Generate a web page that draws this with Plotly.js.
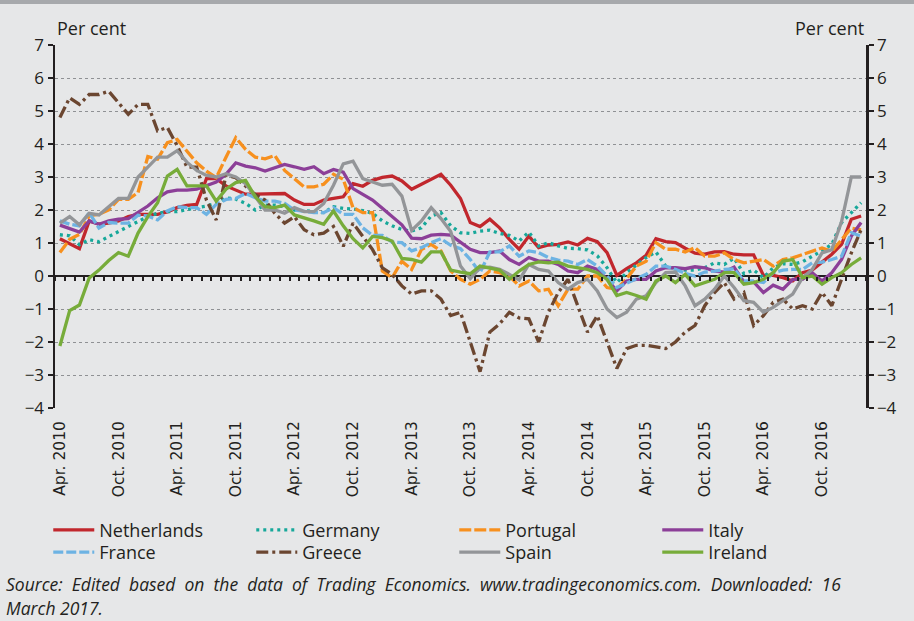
<!DOCTYPE html>
<html>
<head>
<meta charset="utf-8">
<script src="https://cdn.plot.ly/plotly-3.0.1.min.js"></script>
<style>
html,body{margin:0;padding:0;background:#e6e7e8;}
#chart{width:914px;height:621px;}
</style>
</head>
<body>
<div id="chart"></div>
<script>
// Monthly CPI inflation, Apr. 2010 – Feb. 2017 (per cent)
const tickLabels = ["Apr. 2010","Oct. 2010","Apr. 2011","Oct. 2011","Apr. 2012","Oct. 2012","Apr. 2013",
  "Oct. 2013","Apr. 2014","Oct. 2014","Apr. 2015","Oct. 2015","Apr. 2016","Oct. 2016"];

const netherlands = [1.13,0.98,0.83,1.67,1.57,1.6,1.67,1.8,1.87,1.87,1.87,1.94,2.07,2.14,2.17,2.95,2.95,
  2.73,2.6,2.48,2.48,2.48,2.48,2.5,2.3,2.17,2.17,2.3,2.35,2.4,2.8,2.72,2.9,
  2.99,3.03,2.88,2.63,2.78,2.93,3.08,2.75,2.35,1.62,1.5,1.72,1.46,1.11,0.81,1.21,0.86,
  0.94,0.96,1.03,0.94,1.14,1.04,0.71,0.02,0.22,0.4,0.63,1.13,1.04,1.01,0.84,0.69,
  0.66,0.73,0.74,0.66,0.64,0.64,0.02,0.02,-0.05,-0.15,0.1,0.18,0.42,0.66,0.96,1.72,1.82];

const germany = [1.25,1.22,0.95,1.1,1.04,1.2,1.35,1.5,1.65,1.8,1.9,1.95,1.95,2.02,2.07,2.12,2.2,
  2.37,2.33,2.2,2.0,2.15,2.15,2.1,2.0,1.98,1.95,1.92,2.1,2.05,2.03,1.98,1.9,
  1.67,1.52,1.41,1.36,1.46,1.82,1.92,1.52,1.31,1.29,1.36,1.39,1.29,1.23,1.06,1.33,0.91,
  1.01,0.91,0.84,0.83,0.79,0.61,0.25,-0.2,0.1,0.32,0.56,0.73,0.3,0.22,0.18,0.18,
  0.25,0.4,0.35,0.54,0.07,0.18,-0.05,0.25,0.37,0.35,0.43,0.6,0.76,0.96,1.62,1.92,2.22];

const portugal = [0.71,1.11,1.26,1.82,1.87,2.0,2.32,2.32,2.53,3.62,3.54,4.04,4.14,3.79,3.43,3.18,2.98,
  3.6,4.19,3.84,3.6,3.55,3.65,3.2,2.95,2.7,2.7,2.78,3.08,2.93,2.07,1.92,1.92,
  0.15,-0.05,0.45,0.2,0.8,0.96,0.76,0.15,-0.1,-0.25,-0.1,0.15,0.1,0.0,-0.3,-0.15,-0.45,
  -0.4,-0.9,-0.4,-0.4,0.0,0.0,-0.35,-0.4,-0.08,0.3,0.45,1.01,0.81,0.81,0.73,0.86,
  0.6,0.6,0.7,0.5,0.4,0.45,0.5,0.3,0.5,0.55,0.65,0.75,0.85,0.75,1.1,1.45,1.4];

const italy = [1.54,1.44,1.33,1.67,1.57,1.67,1.72,1.74,1.92,2.12,2.37,2.55,2.6,2.6,2.63,2.73,2.85,
  3.08,3.43,3.33,3.28,3.18,3.28,3.38,3.31,3.23,3.31,3.1,3.23,3.15,2.65,2.47,2.3,
  2.05,1.8,1.55,1.15,1.13,1.24,1.26,1.24,1.01,0.81,0.71,0.71,0.76,0.5,0.35,0.56,0.45,
  0.45,0.35,0.15,0.1,0.3,0.2,-0.1,-0.45,-0.15,-0.1,-0.1,0.15,0.25,0.25,0.22,0.28,
  0.25,0.15,0.12,0.27,-0.18,-0.18,-0.5,-0.28,-0.4,-0.1,-0.1,0.1,-0.15,0.1,0.5,1.21,1.62];

const france = [1.67,1.57,1.52,1.92,1.45,1.62,1.6,1.6,1.84,1.82,1.7,1.97,2.1,2.07,2.07,1.87,2.17,
  2.32,2.35,2.5,2.37,2.27,2.27,2.2,2.0,1.95,1.92,1.92,2.07,1.87,1.87,1.46,1.23,
  1.23,1.03,1.01,0.76,0.86,1.01,1.13,0.93,0.83,0.5,0.1,0.73,0.73,0.91,0.6,0.76,0.71,
  0.56,0.48,0.45,0.35,0.5,0.3,0.0,-0.35,-0.22,-0.1,0.05,0.3,0.3,0.2,0.08,0.0,
  0.12,0.15,0.2,0.22,-0.15,-0.15,-0.2,0.1,0.18,0.2,0.2,0.4,0.42,0.5,0.6,1.31,1.21];

const greece = [4.8,5.4,5.2,5.5,5.5,5.6,5.25,4.9,5.2,5.2,4.4,4.5,3.95,3.3,3.3,2.3,1.7,
  3.05,2.98,2.73,2.47,2.3,1.9,1.6,1.8,1.4,1.25,1.3,1.5,0.9,1.6,1.2,0.8,
  0.25,0.05,-0.3,-0.55,-0.45,-0.45,-0.7,-1.2,-1.1,-2.0,-2.9,-1.7,-1.45,-1.1,-1.27,-1.3,-2.0,
  -1.1,-0.5,-0.1,-0.9,-1.7,-1.2,-2.0,-2.8,-2.2,-2.1,-2.1,-2.15,-2.2,-2.0,-1.7,-1.5,
  -0.9,-0.5,-0.2,-0.7,-0.5,-1.5,-1.2,-0.8,-0.7,-1.0,-0.9,-1.0,-0.5,-0.9,-0.1,0.7,1.4];

const spain = [1.6,1.8,1.55,1.9,1.85,2.1,2.35,2.35,3.0,3.3,3.6,3.6,3.8,3.45,3.2,3.05,3.0,
  3.1,3.0,2.8,2.4,2.0,2.0,1.9,2.07,1.95,1.95,2.2,2.75,3.4,3.48,2.95,2.85,
  2.75,2.78,2.42,1.38,1.67,2.07,1.74,1.35,0.3,-0.08,0.25,0.27,0.2,0.05,-0.12,0.35,0.2,
  0.15,-0.2,-0.4,-0.2,-0.1,-0.45,-1.0,-1.26,-1.1,-0.7,-0.6,-0.2,0.1,0.12,-0.3,-0.9,
  -0.7,-0.4,0.0,-0.35,-0.75,-0.8,-1.1,-0.95,-0.75,-0.55,-0.05,0.2,0.7,0.8,1.65,3.0,3.0];

const ireland = [-2.12,-1.05,-0.88,-0.06,0.18,0.47,0.71,0.6,1.3,1.8,2.22,3.03,3.23,2.73,2.73,2.73,2.27,
  2.63,2.83,2.9,2.4,2.1,2.07,2.15,1.85,1.77,1.67,1.57,1.97,1.52,1.13,0.85,1.2,
  1.16,1.06,0.53,0.5,0.42,0.73,0.73,0.18,0.12,0.07,0.3,0.25,0.18,-0.1,0.15,0.35,0.43,
  0.4,0.42,0.3,0.25,0.2,0.1,-0.1,-0.59,-0.5,-0.59,-0.7,-0.15,0.0,-0.2,0.05,-0.3,
  -0.2,-0.1,0.1,0.1,-0.25,-0.2,-0.1,0.1,0.45,0.5,-0.05,0.0,-0.25,-0.05,0.1,0.35,0.55];

const seriesNames = ["Netherlands","Germany","Portugal","Italy","France","Greece","Spain","Ireland"];
const seriesValues = [netherlands, germany, portugal, italy, france, greece, spain, ireland];
const seriesColors = ["#c1272d","#17a89a","#f7901e","#8c3f98","#6db3e3","#6b4630","#939598","#77ac3a"];
const seriesDash = ["solid","3px,4px","12px,3px","solid","10px,3px","12px,4px,3px,4px","solid","solid"];
const seriesLegend = ["legend","legend","legend","legend","legend2","legend2","legend2","legend2"];

const sourceLines = [
  "Source: Edited based on the data of Trading Economics. www.tradingeconomics.com. Downloaded: 16",
  "March 2017."
];

const monthIndex = netherlands.map((_, i) => i);
const tickPositions = tickLabels.map((_, k) => k * 6);
const monthBoundaries = [];
for (let k = 0; k <= monthIndex.length; k++) monthBoundaries.push(k - 0.5);

const ink = "#231f20";
const textFont = "Open Sans, Noto Sans, sans-serif";

const traces = seriesNames.map((name, s) => ({
  type: "scatter", mode: "lines", name: name,
  x: monthIndex, y: seriesValues[s],
  legend: seriesLegend[s],
  line: {color: seriesColors[s], width: 3.3, dash: seriesDash[s]},
  hoverinfo: "skip"
}));
traces.push({type: "scatter", mode: "lines", x: [], y: [], xaxis: "x2", yaxis: "y", showlegend: false, hoverinfo: "skip"});
traces.push({type: "scatter", mode: "lines", x: [], y: [], xaxis: "x", yaxis: "y2", showlegend: false, hoverinfo: "skip"});

const xRange = [-0.5, monthIndex.length - 0.5];
const yRange = [-4, 7];

const yCommon = {
  range: yRange, tickmode: "linear", tick0: 0, dtick: 1,
  ticks: "outside", ticklen: 5, tickwidth: 2, tickcolor: ink,
  showline: true, linewidth: 2.5, linecolor: ink,
  tickfont: {family: textFont, size: 17, color: ink},
  fixedrange: true
};

const legendCommon = {
  orientation: "h", x: -0.0083, xanchor: "left", yanchor: "top",
  entrywidth: 147, entrywidthmode: "pixels", bgcolor: "rgba(0,0,0,0)",
  font: {family: textFont, size: 18, color: ink}, itemwidth: 41, tracegroupgap: 0
};

// source text is justified in the original: widen the word gaps
const justify = (s) => s.split(" ").join(" &nbsp;");

const layout = {
  width: 914, height: 621,
  margin: {l: 55, r: 48, t: 45, b: 213},
  paper_bgcolor: "#e6e7e8", plot_bgcolor: "#e6e7e8",
  showlegend: true,
  xaxis: {
    range: xRange, tickmode: "array", tickvals: tickPositions, ticktext: tickLabels,
    tickangle: -90, ticks: "", showline: false, showgrid: false, zeroline: false,
    ticklabelstandoff: 9,
    tickfont: {family: "DejaVu Sans, Verdana, sans-serif", size: 15.5, color: ink},
    fixedrange: true
  },
  xaxis2: {
    overlaying: "x", anchor: "free", position: (0 - yRange[0]) / (yRange[1] - yRange[0]),
    range: xRange, tickmode: "array", tickvals: monthBoundaries,
    ticks: "outside", ticklen: 4, tickwidth: 2, tickcolor: ink,
    showticklabels: false, showline: false, showgrid: false, zeroline: false, fixedrange: true
  },
  yaxis: Object.assign({}, yCommon, {
    showgrid: true, gridcolor: "#8f9194", griddash: "dot", gridwidth: 1,
    zeroline: true, zerolinecolor: ink, zerolinewidth: 2.5
  }),
  yaxis2: Object.assign({}, yCommon, {
    overlaying: "y", side: "right", anchor: "x", showgrid: false, zeroline: false
  }),
  legend: Object.assign({}, legendCommon, {y: -0.2857}),
  legend2: Object.assign({}, legendCommon, {y: -0.3467}),
  shapes: [
    {type: "rect", xref: "paper", yref: "paper", x0: -0.1, x1: 1.1,
     y0: 1 + (45 - 4) / 363, y1: 1 + 46 / 363, fillcolor: "#a7a9ac", line: {width: 0}}
  ],
  annotations: [
    {text: "Per cent", xref: "paper", yref: "paper", x: 0, y: 1, xanchor: "left", yanchor: "bottom",
     yshift: 3, showarrow: false, font: {family: textFont, size: 18, color: ink}},
    {text: "Per cent", xref: "paper", yref: "paper", x: 1, y: 1, xanchor: "right", yanchor: "bottom",
     yshift: 3, showarrow: false, font: {family: textFont, size: 18, color: ink}},
    {text: "<i>" + justify(sourceLines[0]) + "</i>",
     xref: "paper", yref: "paper", x: -50 / 811, y: (408 - 584) / 363, xanchor: "left", yanchor: "middle",
     borderpad: 0, showarrow: false, font: {family: textFont, size: 17.5, color: ink}},
    {text: "<i>" + sourceLines[1] + "</i>",
     xref: "paper", yref: "paper", x: -50 / 811, y: (408 - 608) / 363, xanchor: "left", yanchor: "middle",
     borderpad: 0, showarrow: false, font: {family: textFont, size: 17.5, color: ink}}
  ]
};

Plotly.newPlot("chart", traces, layout, {displayModeBar: false, staticPlot: true});
</script>
</body>
</html>
